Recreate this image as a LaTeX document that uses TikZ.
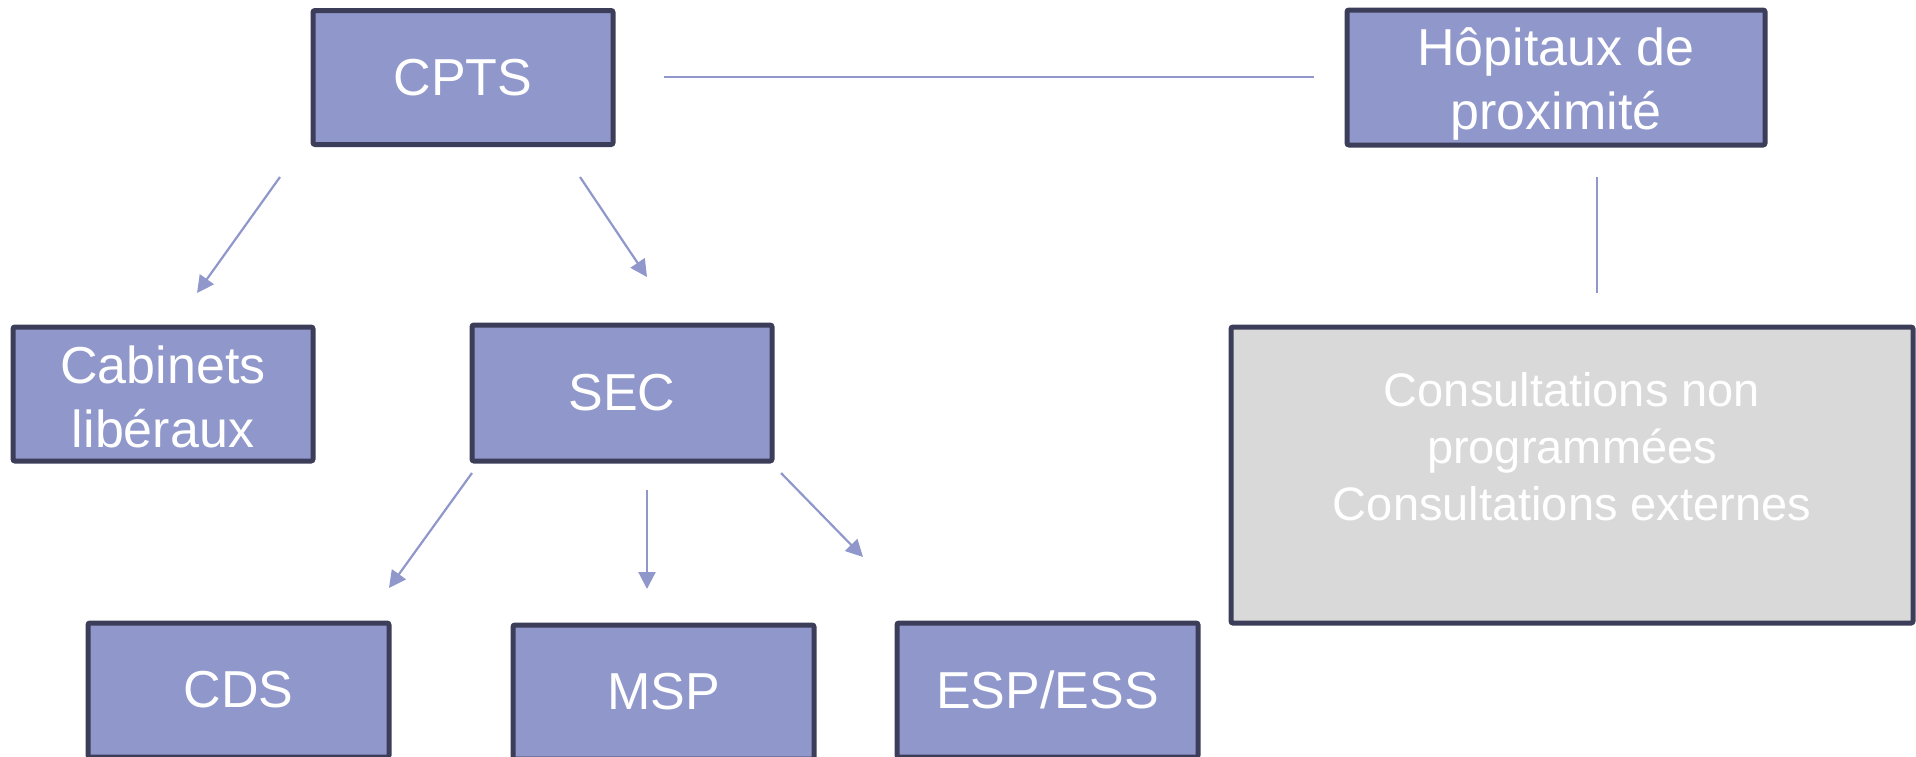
\documentclass[tikz,border=0pt]{standalone}
\usepackage{fontspec}
\setmainfont{Liberation Sans}
\usetikzlibrary{arrows.meta}
\definecolor{boxfill}{HTML}{8F97CB}
\definecolor{boxline}{HTML}{3C3D58}
\definecolor{conn}{HTML}{8F97CB}
\definecolor{grayfill}{HTML}{D9D9D9}
\begin{document}
\begin{tikzpicture}[x=0.5pt,y=-0.5pt,
  bluebox/.style={draw=boxline, fill=boxfill, line width=2.5pt, rounded corners=1pt,
    inner sep=0pt, align=center, text=white,
    font=\fontsize{26pt}{32pt}\selectfont},
  bluetext/.style={inner sep=0pt, align=center, text=white,
    font=\fontsize{26pt}{32pt}\selectfont},
  graybox/.style={draw=boxline, fill=grayfill, line width=2.5pt, rounded corners=1pt,
    inner sep=0pt},
  graytext/.style={inner sep=0pt, align=center, text=white,
    font=\fontsize{23.5pt}{28.5pt}\selectfont},
  connline/.style={draw=conn, line width=1.1pt},
  connarrow/.style={draw=conn, line width=1.1pt, -{Triangle[length=8.5pt,width=8.5pt]}, fill=conn}
]
\useasboundingbox (0,0) rectangle (1916,756);

\node[bluebox, minimum width=150pt, minimum height=67pt] (cpts) at (463,77.5) {CPTS};
\node[bluebox, minimum width=209pt, minimum height=67.5pt] (hop) at (1556,77.5) {};
\node[bluetext] (hoptext) at (1556,84) {Hôpitaux de\\proximité};
\node[bluebox, minimum width=150pt, minimum height=67pt] (cab) at (163,394) {};
\node[bluetext] (cabtext) at (163,396.5) {Cabinets\\libéraux};
\node[bluebox, minimum width=150pt, minimum height=68pt] (sec) at (622,393) {SEC};
\node[bluebox, minimum width=150.5pt, minimum height=67pt] (cds) at (238.5,690) {CDS};
\node[bluebox, minimum width=150.5pt, minimum height=67pt] (msp) at (663.5,692) {MSP};
\node[bluebox, minimum width=150.5pt, minimum height=67pt] (esp) at (1047.5,690) {ESP/ESS};
\node[graybox, minimum width=341pt, minimum height=148pt] (cons) at (1572,475) {};
\node[graytext] (constext) at (1572,447) {Consultations non\\programmées\\Consultations externes};

\coordinate (l1a) at (664,77);
\coordinate (l1b) at (1314,77);
\coordinate (l2a) at (1597,177);
\coordinate (l2b) at (1597,293);
\coordinate (a1s) at (280,177);
\coordinate (a1e) at (197,293);
\coordinate (a2s) at (580,177);
\coordinate (a2e) at (647,277);
\coordinate (a3s) at (472,473);
\coordinate (a3e) at (389,588);
\coordinate (a4s) at (647,490);
\coordinate (a4e) at (647,589);
\coordinate (a5s) at (781,473);
\coordinate (a5e) at (863,557);

\draw[connline] (l1a) -- (l1b);
\draw[connline] (l2a) -- (l2b);
\draw[connarrow] (a1s) -- (a1e);
\draw[connarrow] (a2s) -- (a2e);
\draw[connarrow] (a3s) -- (a3e);
\draw[connarrow] (a4s) -- (a4e);
\draw[connarrow] (a5s) -- (a5e);
\end{tikzpicture}
\end{document}
